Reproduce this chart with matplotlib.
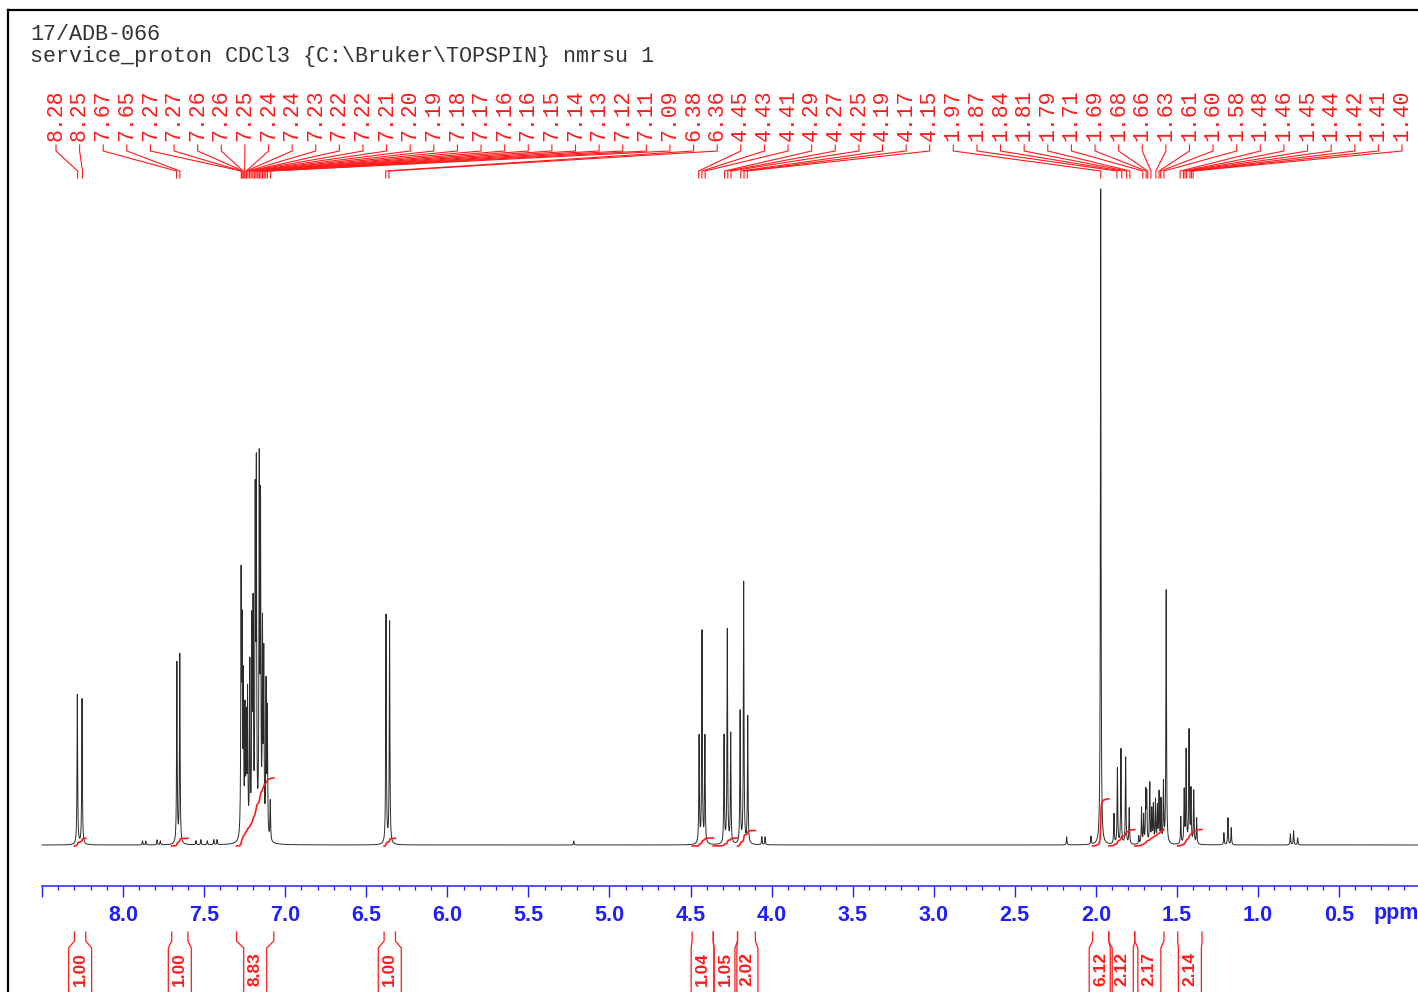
import numpy as np
import matplotlib
matplotlib.use("Agg")
import matplotlib.pyplot as plt
from matplotlib.ticker import FixedLocator

# ---------------- data ----------------
title_lines = ["17/ADB-066",
               "service_proton CDCl3 {C:\\Bruker\\TOPSPIN} nmrsu 1"]

peak_labels = [8.28, 8.25, 7.67, 7.65,
               7.27, 7.27, 7.26, 7.26, 7.25, 7.24, 7.24, 7.23, 7.22, 7.22,
               7.21, 7.20, 7.19, 7.18, 7.17, 7.16, 7.16, 7.15, 7.14, 7.13,
               7.12, 7.11, 7.09, 6.38, 6.36,
               4.45, 4.43, 4.41, 4.29, 4.27, 4.25, 4.19, 4.17, 4.15,
               1.97, 1.87, 1.84, 1.81, 1.79, 1.71, 1.69, 1.68, 1.66, 1.63,
               1.61, 1.60, 1.58, 1.48, 1.46, 1.45, 1.44, 1.42, 1.41, 1.40]

# resolved lines of the spectrum (ppm, height in screen units)
peak_ppm = [8.282, 8.253, 7.668, 7.650,
            7.88, 7.86, 7.79, 7.77, 7.55, 7.52, 7.48, 7.44, 7.42,
            7.272, 7.266, 7.258, 7.248, 7.240, 7.232, 7.218, 7.205, 7.198,
            7.185, 7.178, 7.160, 7.152, 7.140, 7.132, 7.118, 7.110, 7.092,
            6.378, 6.356, 5.22,
            4.447, 4.429, 4.411, 4.293, 4.273, 4.252, 4.194, 4.172, 4.147,
            4.06, 4.04,
            2.18, 2.03, 1.970,
            1.888, 1.867, 1.845, 1.816, 1.794,
            1.735, 1.718, 1.705, 1.692, 1.686, 1.667, 1.655, 1.645, 1.632,
            1.620, 1.610, 1.598, 1.583, 1.566,
            1.476, 1.455, 1.443, 1.425, 1.413, 1.396, 1.378,
            1.21, 1.185, 1.165, 0.80, 0.78, 0.755]
peak_height = [150, 146, 181, 189,
               4, 4, 5, 4, 4, 5, 4, 5, 5,
               250, 190, 150, 120, 110, 140, 170, 200, 215,
               320, 350, 360, 320, 200, 175, 150, 125, 40,
               230, 222, 4,
               107, 212, 107, 108, 214, 110, 132, 262, 127,
               8, 8,
               8, 8, 656,
               30, 76, 95, 87, 36,
               8, 36, 28, 50, 48, 60, 33, 38, 43,
               36, 50, 43, 60, 255,
               27, 53, 93, 113, 53, 53, 26,
               12, 27, 17, 11, 14, 7]
line_hwhm = 0.0022

integ_left = [8.30, 7.70, 7.30, 6.39, 4.49, 4.36, 4.21, 2.02, 1.92, 1.76, 1.495]
integ_right = [8.23, 7.60, 7.07, 6.32, 4.36, 4.21, 4.10, 1.92, 1.76, 1.58, 1.345]
integ_value = [1.00, 1.00, 8.83, 1.00, 1.04, 1.05, 2.02, 6.12, 2.12, 2.17, 2.14]

tick_values = [8.5, 8.0, 7.5, 7.0, 6.5, 6.0, 5.5, 5.0, 4.5, 4.0,
               3.5, 3.0, 2.5, 2.0, 1.5, 1.0, 0.5]
tick_labels = ["", "8.0", "7.5", "7.0", "6.5", "6.0", "5.5", "5.0", "4.5",
               "4.0", "3.5", "3.0", "2.5", "2.0", "1.5", "1.0", "0.5"]

# ---------------- layout helpers ----------------
W, H, DPI = 1418, 992, 100
PX_PER_PPM = 162.13
AX_START_PX = 42
PPM_START = 8.5
BASE_ROW = 845


def px2ppm(col):
    return PPM_START - (col - AX_START_PX) / PX_PER_PPM


def row(r):
    return BASE_ROW - r


RED = "#ff1a1a"
BLUE = "#1f1fff"

fig = plt.figure(figsize=(W / DPI, H / DPI), dpi=DPI)
ax = fig.add_axes([0, 0, 1, 1])
ax.set_xlim(px2ppm(0), px2ppm(W))
ax.set_ylim(row(H), row(0))

# spectrum
x = np.linspace(px2ppm(W), PPM_START, 26000)
y = np.zeros_like(x)
for p, h in zip(peak_ppm, peak_height):
    y += h / (1.0 + ((x - p) / line_hwhm) ** 2)
ax.plot(x, y, color="#2a2a2a", lw=0.7, zorder=3)

# integrals
for l, r, v in zip(integ_left, integ_right, integ_value):
    m = (x <= l) & (x >= r)
    xs = x[m][::-1]
    ys = y[m][::-1]
    c = np.cumsum(ys)
    c = c / c[-1] * v * 7.7
    ax.plot(xs, c - 1, color=RED, lw=1.2, zorder=4)
    xc = (l + r) / 2
    hw = 11.5 / PX_PER_PPM
    ax.plot([l, l, xc + hw, xc + hw], [row(932), row(941), row(948), row(H + 5)],
            color=RED, lw=0.9, clip_on=False)
    ax.plot([r, r, xc - hw, xc - hw], [row(932), row(941), row(948), row(H + 5)],
            color=RED, lw=0.9, clip_on=False)
    ax.text(xc, row(969), f"{v:.2f}", rotation=90, ha="center", va="center",
            family="Liberation Sans", fontweight="bold", fontsize=12.5, color=RED)

# peak labels at the top
label_x = np.linspace(px2ppm(56), px2ppm(1402), len(peak_labels))
for xl, v in zip(label_x, peak_labels):
    ax.text(xl, row(141), f"{v:.2f}", rotation=90, rotation_mode="anchor",
            ha="left", va="center", family="Liberation Mono", fontsize=15.5,
            color=RED)
    ax.plot([xl, xl, v, v], [row(145), row(151), row(171), row(178)],
            color=RED, lw=0.8)

# x axis
for s in ["left", "right", "top"]:
    ax.spines[s].set_visible(False)
ax.spines["bottom"].set_position(("data", row(886)))
ax.spines["bottom"].set_bounds(PPM_START, px2ppm(W))
ax.spines["bottom"].set_color(BLUE)
ax.spines["bottom"].set_linewidth(1.1)
ax.xaxis.set_major_locator(FixedLocator(tick_values))
ax.set_xticklabels(tick_labels, family="Liberation Sans", fontweight="bold",
                   fontsize=15.5)
ax.xaxis.set_minor_locator(FixedLocator(
    [round(8.5 - 0.1 * i, 1) for i in range(1, 85)]))
ax.tick_params(axis="x", which="major", direction="out", length=8, width=1.0,
               color=BLUE, labelcolor=BLUE, pad=5.5)
ax.tick_params(axis="x", which="minor", direction="out", length=3.2, width=0.9,
               color=BLUE)
ax.set_yticks([])
ax.text(px2ppm(1374), row(914), "ppm", ha="left", va="center",
        family="Liberation Sans", fontweight="bold", fontsize=15.5, color=BLUE)

# frame
ax.plot([8 / W, 1.0], [1 - 10 / H, 1 - 10 / H], transform=ax.transAxes,
        color="black", lw=1.6, clip_on=False)
ax.plot([8 / W, 8 / W], [0, 1 - 10 / H], transform=ax.transAxes,
        color="black", lw=1.6, clip_on=False)

# title
for i, t in enumerate(title_lines):
    ax.text(px2ppm(30), row(39.5 + 22.5 * i), t, ha="left", va="baseline",
            family="Liberation Mono", fontsize=15.7, color="#333333")

fig.savefig("out.png", dpi=DPI)
